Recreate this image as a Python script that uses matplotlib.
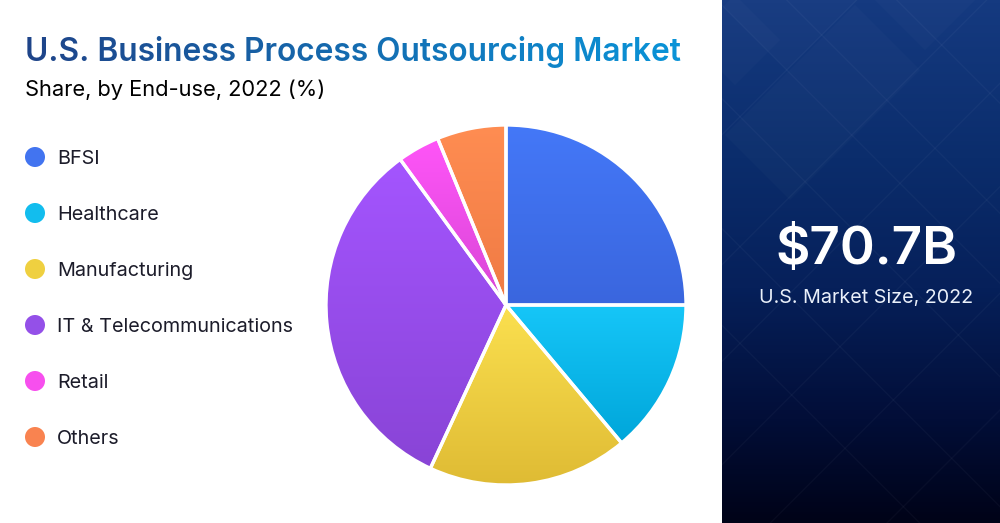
import numpy as np
import matplotlib
matplotlib.use("Agg")
import matplotlib.pyplot as plt
from matplotlib.colors import LinearSegmentedColormap, to_rgb
from matplotlib.patches import Polygon, Circle

categories = ["BFSI", "Healthcare", "Manufacturing", "IT & Telecommunications", "Retail", "Others"]
shares = [25.0, 13.9, 18.0, 33.1, 3.8, 6.2]
tops = ["#4478F8", "#16C6F8", "#FBE04F", "#A455FF", "#FF55F8", "#FF8D52"]
bottoms = ["#3A66DE", "#00A6DA", "#DFBB34", "#8944D6", "#D846D6", "#EF7A44"]
legend_colors = ["#4274F0", "#12BDEE", "#EFD040", "#9450E8", "#F74FEE", "#F98350"]
title = "U.S. Business Process Outsourcing Market"
subtitle = "Share, by End-use, 2022 (%)"
big_value = "$70.7B"
big_label = "U.S. Market Size, 2022"
FONT = "Inter"

fig = plt.figure(figsize=(10, 5.23), dpi=100, facecolor="white")
ax = fig.add_axes([0, 0, 1, 1])
ax.set_xlim(0, 1000)
ax.set_ylim(523, 0)
ax.axis("off")

# side panel
panel_cmap = LinearSegmentedColormap.from_list(
    "panel", [(0, "#153A80"), (0.3, "#0B2D6C"), (0.55, "#06205A"), (0.8, "#020E38"), (1, "#000318")])
ax.imshow(np.linspace(0, 1, 523)[:, None], cmap=panel_cmap, extent=(722, 1000, 523, 0),
          aspect="auto", zorder=1)
ax.set_xlim(0, 1000)
ax.set_ylim(523, 0)
clip = plt.Rectangle((722, 0), 278, 523, transform=ax.transData)
for c in [-530, -200, 10, 290, 680, 970]:
    x0, x1 = 0, 280
    ax.plot([720 + x0, 720 + x1], [x0 + c / 3, x1 + c / 3], color="white", alpha=0.03, lw=1,
            zorder=2, clip_path=clip)
for c in [410, 800, 1090, 1400, 1720, 2070]:
    x0, x1 = 0, 280
    ax.plot([720 + x0, 720 + x1], [c / 3 - x0, c / 3 - x1], color="white", alpha=0.03, lw=1,
            zorder=2, clip_path=clip)
for (cx, cy, r) in [(787, 0, 70), (925, 0, 50), (735, 40, 45), (855, 70, 65), (790, 135, 65)]:
    p = Polygon([(cx - r, cy), (cx, cy - r), (cx + r, cy), (cx, cy + r)], closed=True,
                facecolor="white", alpha=0.018, edgecolor="none", zorder=2)
    ax.add_patch(p)
    p.set_clip_path(clip)

ax.text(866, 250, big_value, color="white", fontsize=38.2, fontweight=600, family=FONT,
        ha="center", va="center", zorder=3)
ax.text(866, 298, big_label, color="#EAF0FA", fontsize=14.2, family=FONT,
        ha="center", va="center", zorder=3)


def gradient_filter(image, dpi):
    out = image.copy()
    w = image.shape[1]
    start = np.array(to_rgb("#1F4489"))
    end = np.array(to_rgb("#0A94D8"))
    t = np.linspace(0, 1, w)[None, :, None]
    out[..., :3] = start * (1 - t) + end * t
    return out, 0, 0


t = ax.text(25, 61, title, color="#1F4489", fontsize=22.8, fontweight=600, family=FONT,
            ha="left", va="baseline", zorder=3)
t.set_agg_filter(gradient_filter)
ax.text(25, 95.5, subtitle, color="black", fontsize=15.75, family=FONT, ha="left", va="baseline", zorder=3)

# legend
legend_y = [157, 213, 269, 325, 381, 437]
for name, y, c in zip(categories, legend_y, legend_colors):
    ax.add_patch(Circle((35, y), 10, facecolor=c, edgecolor="none", zorder=3))
    ax.text(57, y + 1.8, name, color="#1c1c2a", fontsize=14.25, family=FONT, ha="left", va="center", zorder=3)

# pie
R = 180
half = 1.05
pax = fig.add_axes([(506 - R * half) / 1000, 1 - (305 + R * half) / 523, 2 * R * half / 1000, 2 * R * half / 523])
wedges, _ = pax.pie(shares, startangle=90, counterclock=False, radius=1,
                    wedgeprops=dict(edgecolor="white", linewidth=2.4, facecolor="none", zorder=5))
for w, c0, c1 in zip(wedges, tops, bottoms):
    bbox = w.get_path().transformed(w.get_patch_transform()).get_extents()
    cm = LinearSegmentedColormap.from_list("g", [c0, c1])
    im = pax.imshow(np.linspace(0, 1, 256)[:, None], cmap=cm, aspect="auto", origin="upper",
                    extent=(bbox.x0, bbox.x1, bbox.y0, bbox.y1), zorder=1)
    im.set_clip_path(w)
pax.set_xlim(-half, half)
pax.set_ylim(-half, half)
pax.set_aspect("equal")
pax.axis("off")

fig.savefig("out.png", dpi=100)
